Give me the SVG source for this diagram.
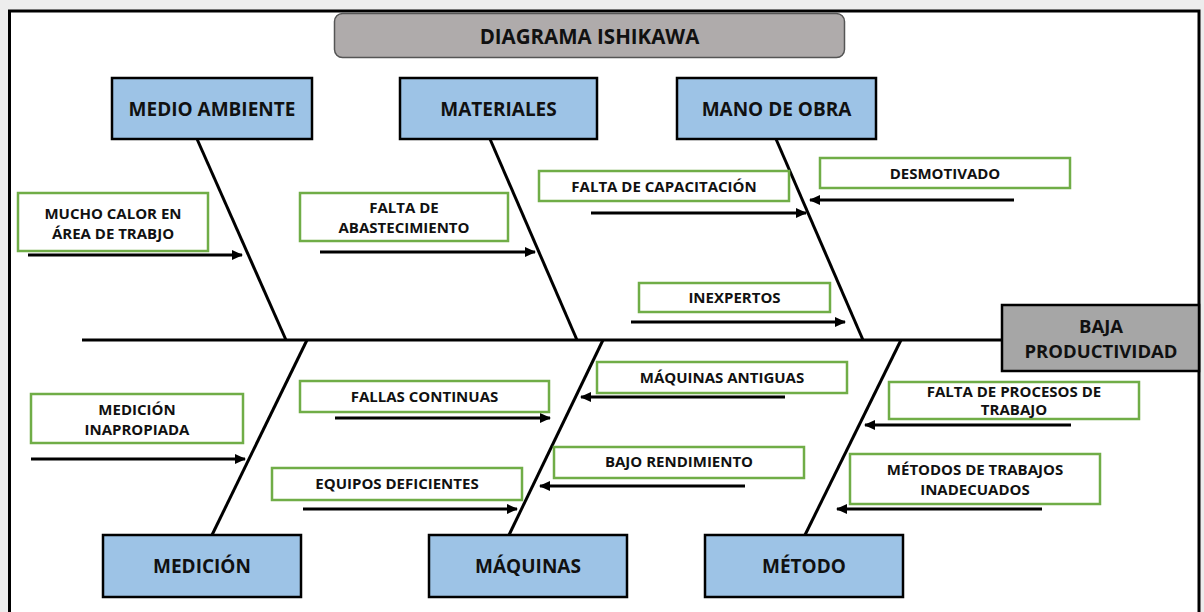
<svg xmlns="http://www.w3.org/2000/svg" width="1204" height="612" viewBox="0 0 1204 612">
<style>
.cat rect{fill:#9dc3e6;stroke:#000;stroke-width:2.5}
.cat text{font-family:"Open Sans","Liberation Sans",sans-serif;font-weight:700;font-size:19px;fill:#111;text-anchor:middle}
.cause rect{fill:#fff;stroke:#70ad47;stroke-width:2.5}
.cause text{font-family:"Open Sans","Liberation Sans",sans-serif;font-weight:700;font-size:15px;fill:#111;text-anchor:middle}
.bone{stroke:#000;stroke-width:3;fill:none}
.arr{stroke:#000;stroke-width:3;fill:none;marker-end:url(#ah)}
</style>
<defs>
<marker id="ah" markerUnits="userSpaceOnUse" markerWidth="12" markerHeight="10" refX="10" refY="5" orient="auto">
<path d="M0,0 L11,5 L0,10 Z" fill="#000"/>
</marker>
</defs>
<rect x="0" y="0" width="1204" height="612" fill="#ededed"/>
<rect x="9.5" y="11" width="1189.5" height="620" fill="#fff" stroke="#000" stroke-width="3"/>

<g id="title">
<rect x="334.5" y="13.5" width="510" height="44" rx="8" fill="#afabab" stroke="#555" stroke-width="1.5"/>
<text x="589.5" y="43.5" font-family="'Open Sans','Liberation Sans',sans-serif" font-weight="700" font-size="20.5" fill="#111" text-anchor="middle">DIAGRAMA ISHIKAWA</text>
</g>

<g id="connectors">
<line class="bone" x1="82" y1="340" x2="1003" y2="340" stroke-width="5"/>
<line class="bone" x1="197" y1="139" x2="286" y2="340"/>
<line class="bone" x1="490" y1="139" x2="577" y2="340"/>
<line class="bone" x1="776" y1="139" x2="863" y2="340"/>
<line class="bone" x1="307" y1="340" x2="212" y2="535"/>
<line class="bone" x1="603" y1="340" x2="509" y2="535"/>
<line class="bone" x1="901" y1="340" x2="805" y2="535"/>
<line class="arr" x1="28" y1="255" x2="242" y2="255"/>
<line class="arr" x1="320" y1="252" x2="535" y2="252"/>
<line class="arr" x1="591" y1="213" x2="806" y2="213"/>
<line class="arr" x1="1014" y1="200" x2="810" y2="200"/>
<line class="arr" x1="631" y1="322" x2="845" y2="322"/>
<line class="arr" x1="785" y1="397" x2="581" y2="397"/>
<line class="arr" x1="335" y1="418" x2="550" y2="418"/>
<line class="arr" x1="31" y1="459" x2="245" y2="459"/>
<line class="arr" x1="745" y1="486" x2="540" y2="486"/>
<line class="arr" x1="303" y1="509" x2="517" y2="509"/>
<line class="arr" x1="1071" y1="425" x2="865" y2="425"/>
<line class="arr" x1="1042" y1="509" x2="837" y2="509"/>
</g>

<g id="effect">
<rect x="1002" y="305" width="197" height="66" fill="#a6a6a6" stroke="#000" stroke-width="2.5"/>
<text x="1101" y="333" font-family="'Open Sans','Liberation Sans',sans-serif" font-weight="700" font-size="18.5" fill="#111" text-anchor="middle">BAJA</text>
<text x="1101" y="358" font-family="'Open Sans','Liberation Sans',sans-serif" font-weight="700" font-size="18.5" fill="#111" text-anchor="middle">PRODUCTIVIDAD</text>
</g>

<g id="medio-ambiente" class="cat"><rect x="112" y="78" width="200" height="61"/><text x="212" y="116">MEDIO AMBIENTE</text></g>
<g id="materiales" class="cat"><rect x="400" y="78" width="197" height="61"/><text x="498.5" y="116">MATERIALES</text></g>
<g id="mano-de-obra" class="cat"><rect x="677" y="78" width="199" height="61"/><text x="776.5" y="116">MANO DE OBRA</text></g>
<g id="medicion" class="cat"><rect x="103" y="535" width="198" height="62"/><text x="202" y="573">MEDICIÓN</text></g>
<g id="maquinas" class="cat"><rect x="429" y="535" width="198" height="62"/><text x="528" y="573">MÁQUINAS</text></g>
<g id="metodo" class="cat"><rect x="705" y="535" width="198" height="62"/><text x="804" y="573">MÉTODO</text></g>

<g id="c-calor" class="cause"><rect x="18" y="193" width="190" height="58"/><text x="113" y="219">MUCHO CALOR EN</text><text x="113" y="239">ÁREA DE TRABJO</text></g>
<g id="c-abastecimiento" class="cause"><rect x="300" y="193" width="208" height="48"/><text x="404" y="213">FALTA DE</text><text x="404" y="233">ABASTECIMIENTO</text></g>
<g id="c-capacitacion" class="cause"><rect x="539" y="171" width="250" height="30"/><text x="664" y="192">FALTA DE CAPACITACIÓN</text></g>
<g id="c-desmotivado" class="cause"><rect x="820" y="158" width="250" height="30"/><text x="945" y="179">DESMOTIVADO</text></g>
<g id="c-inexpertos" class="cause"><rect x="639" y="283" width="191" height="29"/><text x="734.5" y="303">INEXPERTOS</text></g>
<g id="c-antiguas" class="cause"><rect x="597" y="362" width="250" height="31"/><text x="722" y="383">MÁQUINAS ANTIGUAS</text></g>
<g id="c-fallas" class="cause"><rect x="300" y="381" width="249" height="31"/><text x="424.5" y="402">FALLAS CONTINUAS</text></g>
<g id="c-medicion" class="cause"><rect x="31" y="394" width="212" height="49"/><text x="137" y="415">MEDICIÓN</text><text x="137" y="435">INAPROPIADA</text></g>
<g id="c-rendimiento" class="cause"><rect x="554" y="447" width="250" height="31"/><text x="679" y="467">BAJO RENDIMIENTO</text></g>
<g id="c-equipos" class="cause"><rect x="272" y="468" width="250" height="32"/><text x="397" y="489">EQUIPOS DEFICIENTES</text></g>
<g id="c-procesos" class="cause"><rect x="889" y="382" width="250" height="37"/><text x="1014" y="397" font-size="13.5">FALTA DE PROCESOS DE</text><text x="1014" y="415" font-size="13.5">TRABAJO</text></g>
<g id="c-metodos" class="cause"><rect x="850" y="454" width="250" height="50"/><text x="975" y="475">MÉTODOS DE TRABAJOS</text><text x="975" y="495">INADECUADOS</text></g>
</svg>
